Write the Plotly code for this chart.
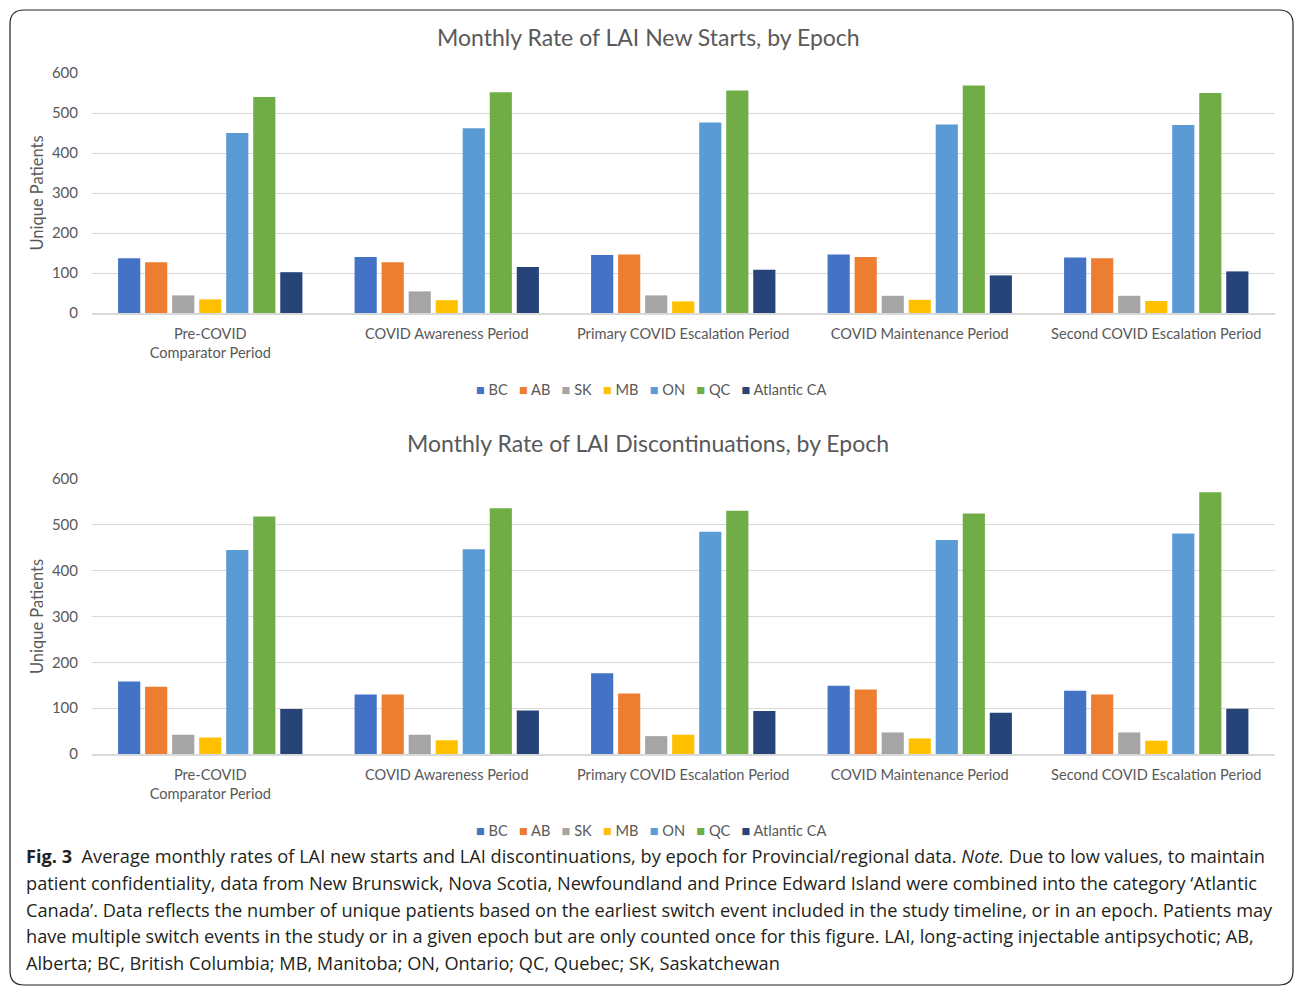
import plotly.graph_objects as go

# Epochs (x categories) and region series
epochs = [
    "Pre-COVID<br>Comparator Period",
    "COVID Awareness Period",
    "Primary COVID Escalation Period",
    "COVID Maintenance Period",
    "Second COVID Escalation Period",
]
regions = ["BC", "AB", "SK", "MB", "ON", "QC", "Atlantic CA"]
region_colors = ["#4472C4", "#ED7D31", "#A5A5A5", "#FFC000", "#5B9BD5", "#70AD47", "#264478"]

# Monthly rate of LAI new starts (unique patients), per region across epochs
new_bc = [137, 140, 145, 146, 139]
new_ab = [127, 127, 146, 140, 137]
new_sk = [44, 54, 44, 43, 43]
new_mb = [34, 32, 29, 33, 30]
new_on = [450, 462, 476, 471, 470]
new_qc = [540, 552, 556, 569, 550]
new_atl = [102, 115, 108, 94, 104]

# Monthly rate of LAI discontinuations (unique patients), per region across epochs
disc_bc = [158, 130, 176, 149, 138]
disc_ab = [147, 130, 132, 141, 130]
disc_sk = [42, 42, 39, 47, 47]
disc_mb = [36, 30, 42, 34, 29]
disc_on = [445, 447, 485, 467, 481]
disc_qc = [518, 536, 531, 525, 571]
disc_atl = [98, 95, 94, 90, 99]

new_starts = [new_bc, new_ab, new_sk, new_mb, new_on, new_qc, new_atl]
discontinuations = [disc_bc, disc_ab, disc_sk, disc_mb, disc_on, disc_qc, disc_atl]

y_ticks = [0, 100, 200, 300, 400, 500, 600]

W, H = 1295, 987
CHART_FONT = "Lato, Open Sans, sans-serif"
CAPTION_FONT = "Open Sans, Noto Sans, sans-serif"
GREY = "#595959"


def px_x(p):
    return p / W


def px_y(p):
    return 1 - p / H


fig = go.Figure()

for name, color, vals in zip(regions, region_colors, new_starts):
    fig.add_trace(go.Bar(x=epochs, y=vals, name=name, marker=dict(color=color, line=dict(width=0)),
                         xaxis="x", yaxis="y", showlegend=False))
for name, color, vals in zip(regions, region_colors, discontinuations):
    fig.add_trace(go.Bar(x=epochs, y=vals, name=name, marker=dict(color=color, line=dict(width=0)),
                         xaxis="x2", yaxis="y2", showlegend=False))

x_dom = [px_x(92), px_x(1274.5)]
axis_x = dict(domain=x_dom, showgrid=False, showline=True, linecolor="#d9d9d9", linewidth=1.5,
              ticks="", tickfont=dict(family=CHART_FONT, size=14.6, color=GREY),
              ticklabelstandoff=7, fixedrange=True, automargin=False)
axis_y = dict(range=[0, 600], tickvals=y_ticks, showgrid=True, gridcolor="#d9d9d9", gridwidth=1,
              zeroline=False, showline=False, ticks="",
              tickfont=dict(family=CHART_FONT, size=15, color=GREY), ticklabelstandoff=13,
              title=dict(text="Unique Patients", font=dict(family=CHART_FONT, size=16.5, color=GREY),
                         standoff=4), fixedrange=True, automargin=False)

fig.update_layout(
    width=W, height=H,
    margin=dict(l=0, r=0, t=0, b=0, pad=0, autoexpand=False),
    paper_bgcolor="white", plot_bgcolor="white",
    barmode="group", bargap=0.2, bargroupgap=0.18,
    xaxis=dict(axis_x, anchor="y"),
    yaxis=dict(axis_y, domain=[px_y(313), px_y(73)], anchor="x"),
    xaxis2=dict(axis_x, anchor="y2"),
    yaxis2=dict(axis_y, domain=[px_y(754), px_y(479)], anchor="x2"),
    showlegend=False,
)

# Rounded frame around the whole figure
x0, x1, y0, y1, r = 10, 1293, 10, 985, 14
frame = (
    f"M {px_x(x0 + r)},{px_y(y0)} L {px_x(x1 - r)},{px_y(y0)} "
    f"Q {px_x(x1)},{px_y(y0)} {px_x(x1)},{px_y(y0 + r)} "
    f"L {px_x(x1)},{px_y(y1 - r)} Q {px_x(x1)},{px_y(y1)} {px_x(x1 - r)},{px_y(y1)} "
    f"L {px_x(x0 + r)},{px_y(y1)} Q {px_x(x0)},{px_y(y1)} {px_x(x0)},{px_y(y1 - r)} "
    f"L {px_x(x0)},{px_y(y0 + r)} Q {px_x(x0)},{px_y(y0)} {px_x(x0 + r)},{px_y(y0)} Z"
)
fig.add_shape(type="path", path=frame, xref="paper", yref="paper",
              line=dict(color="#222222", width=1.2), fillcolor="rgba(0,0,0,0)")

annotations = []

# Chart titles
for text, ypix in [("Monthly Rate of LAI New Starts, by Epoch", 37),
                   ("Monthly Rate of LAI Discontinuations, by Epoch", 443)]:
    annotations.append(dict(text=text, x=px_x(648), y=px_y(ypix), xref="paper", yref="paper",
                            xanchor="center", yanchor="middle", showarrow=False,
                            font=dict(family=CHART_FONT, size=23, color=GREY)))

# Legends built from the region names and colours
legend_text = "&nbsp;&nbsp;&nbsp;".join(
    f'<span style="color:{c}">■</span>&nbsp;{n}' for n, c in zip(regions, region_colors)
)
for ypix in [389, 830]:
    annotations.append(dict(text=legend_text, x=px_x(651), y=px_y(ypix), xref="paper", yref="paper",
                            xanchor="center", yanchor="middle", showarrow=False,
                            font=dict(family=CHART_FONT, size=14.6, color=GREY)))

# Figure caption
caption_lines = [
    "<b>Fig. 3</b>  Average monthly rates of LAI new starts and LAI discontinuations, by epoch for Provincial/regional data. <i>Note.</i> Due to low values, to maintain",
    "patient confidentiality, data from New Brunswick, Nova Scotia, Newfoundland and Prince Edward Island were combined into the category ‘Atlantic",
    "Canada’. Data reflects the number of unique patients based on the earliest switch event included in the study timeline, or in an epoch. Patients may",
    "have multiple switch events in the study or in a given epoch but are only counted once for this figure. LAI, long-acting injectable antipsychotic; AB,",
    "Alberta; BC, British Columbia; MB, Manitoba; ON, Ontario; QC, Quebec; SK, Saskatchewan",
]
caption_y = [856, 883, 910, 936, 963]
for line, ypix in zip(caption_lines, caption_y):
    annotations.append(dict(text=line, x=px_x(24), y=px_y(ypix), xref="paper", yref="paper",
                            xanchor="left", yanchor="middle", showarrow=False, align="left",
                            font=dict(family=CAPTION_FONT, size=18.2, color="#231f20")))

fig.update_layout(annotations=annotations)

fig.write_html("out.html")
